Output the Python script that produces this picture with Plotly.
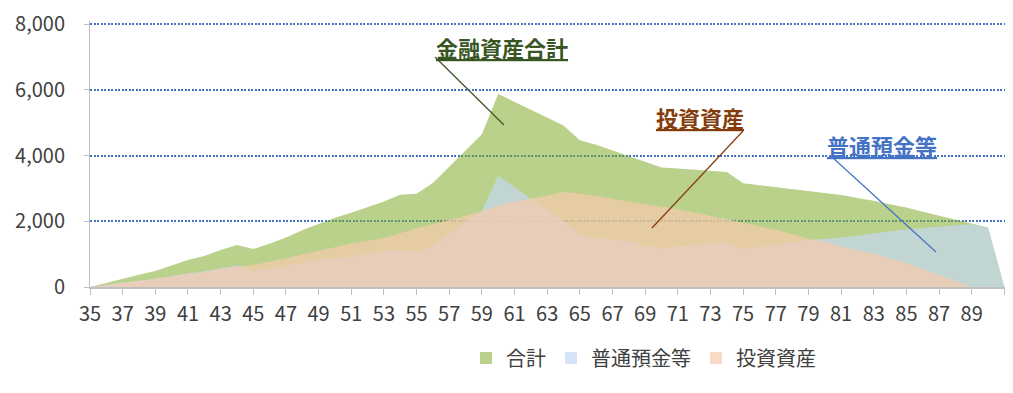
import plotly.graph_objects as go

# ---- data ----
ages = list(range(35, 92))
total = [0, 130, 265, 375, 490, 660, 825, 945, 1130, 1280,
         1160, 1320, 1505, 1730, 1930, 2110, 2260, 2420, 2600, 2810,
         2840, 3170, 3670, 4170, 4650, 5880, 5640, 5400, 5150, 4920,
         4470, 4330, 4160, 3990, 3810, 3640, 3610, 3580, 3550, 3500,
         3160, 3100, 3040, 2975, 2910, 2860, 2800, 2710, 2630, 2520,
         2420, 2290, 2170, 2040, 1920, 1810, 0]
savings = [0, 70, 140, 195, 250, 340, 420, 480, 570, 660,
           490, 560, 640, 740, 830, 880, 930, 1010, 1080, 1150,
           1060, 1250, 1600, 1980, 2320, 3390, 3040, 2680, 2360, 2000,
           1600, 1510, 1450, 1390, 1260, 1180, 1230, 1270, 1310, 1360,
           1150, 1210, 1280, 1360, 1430, 1460, 1500, 1560, 1630, 1700,
           1760, 1800, 1840, 1880, 1910, 1810, 0]
investment = [0, 60, 125, 180, 240, 320, 405, 465, 560, 620,
              670, 770, 870, 990, 1100, 1220, 1330, 1410, 1490, 1640,
              1790, 1910, 2040, 2170, 2310, 2480, 2600, 2690, 2780, 2890,
              2840, 2780, 2680, 2600, 2540, 2450, 2370, 2270, 2170, 2070,
              1960, 1850, 1740, 1610, 1480, 1380, 1240, 1110, 1020, 880,
              720, 550, 370, 180, 0, 0, 0]

series_names = ["合計", "普通預金等", "投資資産"]
tick_years = list(range(35, 92, 2))
tick_labels = [str(a) for a in range(35, 90, 2)] + [""]
y_ticks = [0, 2000, 4000, 6000, 8000]

FONT = "Noto Sans CJK JP"
fills = ["rgba(128,171,44,0.55)", "rgba(197,217,241,0.7)", "rgba(248,203,173,0.7)"]

fig = go.Figure()
for name, vals, col in zip(series_names, [total, savings, investment], fills):
    fig.add_trace(go.Scatter(x=ages, y=vals, mode="lines", fill="tozeroy",
                             fillcolor=col, line=dict(width=0, color=col),
                             name=name, legendgroup=name, showlegend=False,
                             hoverinfo="x+y+name"))
# legend swatches (square markers, zero-height bars)
for name, col in zip(series_names, fills):
    fig.add_trace(go.Bar(x=[ages[0]], y=[0], name=name, legendgroup=name,
                         marker=dict(color=col, line=dict(width=0)), hoverinfo="skip"))

# page offset of the plot div (default body margin)
OFF = 8
PAGE_W, PAGE_H = 1013, 393
W, H = PAGE_W - OFF, PAGE_H - OFF
# plot area in page pixels
X0, X1, Y0, Y1 = 90, 1013, 21, 287
L, R, T, B = X0 - OFF, PAGE_W - X1, Y0 - OFF, PAGE_H - Y1
pw, ph = X1 - X0, Y1 - Y0

def px(xp):
    return (xp - X0) / pw

def py(yp):
    return (Y1 - yp) / ph

# callouts: (text, colour, text centre px, line start px, line end px)
callouts = [
    ("金融資産合計", "#375623", (502, 47), (435, 57), (504, 125)),
    ("投資資産", "#843c0c", (700, 117), (743, 131), (652, 228)),
    ("普通預金等", "#4472c4", (882, 145), (832, 157), (936, 252)),
]
annotations = []
shapes = []
for txt, col, (cx, cy), (x0, y0), (x1, y1) in callouts:
    annotations.append(dict(text="<b><u>" + txt + "</u></b>", xref="paper", yref="paper",
                            x=px(cx), y=py(cy), xanchor="center", yanchor="middle",
                            showarrow=False, font=dict(family=FONT, size=22, color=col)))
    shapes.append(dict(type="line", xref="paper", yref="paper",
                       x0=px(x0), y0=py(y0), x1=px(x1), y1=py(y1),
                       line=dict(color=col, width=1.2)))

fig.update_layout(
    width=W, height=H,
    margin=dict(l=L, r=R, t=T, b=B, autoexpand=False),
    paper_bgcolor="white", plot_bgcolor="white",
    font=dict(family=FONT, size=20, color="#404040"),
    showlegend=True,
    legend=dict(orientation="h", x=px(466), xanchor="left", y=py(358), yanchor="middle",
                font=dict(family=FONT, size=20, color="#404040"),
                bgcolor="rgba(0,0,0,0)"),
    annotations=annotations,
    shapes=shapes,
    xaxis=dict(range=[35, 91.53], tickmode="array", tickvals=tick_years, ticktext=tick_labels,
               showgrid=False, zeroline=False, showline=True, linecolor="#bfbfbf", linewidth=1.5,
               ticks="outside", ticklen=6, tickcolor="#bfbfbf", tickwidth=1,
               ticklabelstandoff=2,
               tickfont=dict(family=FONT, size=20, color="#404040")),
    yaxis=dict(range=[0, 8100], tickmode="array", tickvals=y_ticks, tickformat=",",
               showgrid=True, gridcolor="#4472c4", gridwidth=1.5, griddash="2px,1.5px",
               zeroline=False, showline=True, linecolor="#bfbfbf", linewidth=1,
               ticks="outside", ticklen=5, tickcolor="#bfbfbf",
               ticklabelstandoff=15,
               tickfont=dict(family=FONT, size=20, color="#404040")),
    bargap=0.2,
)

fig.write_html("out.html")
